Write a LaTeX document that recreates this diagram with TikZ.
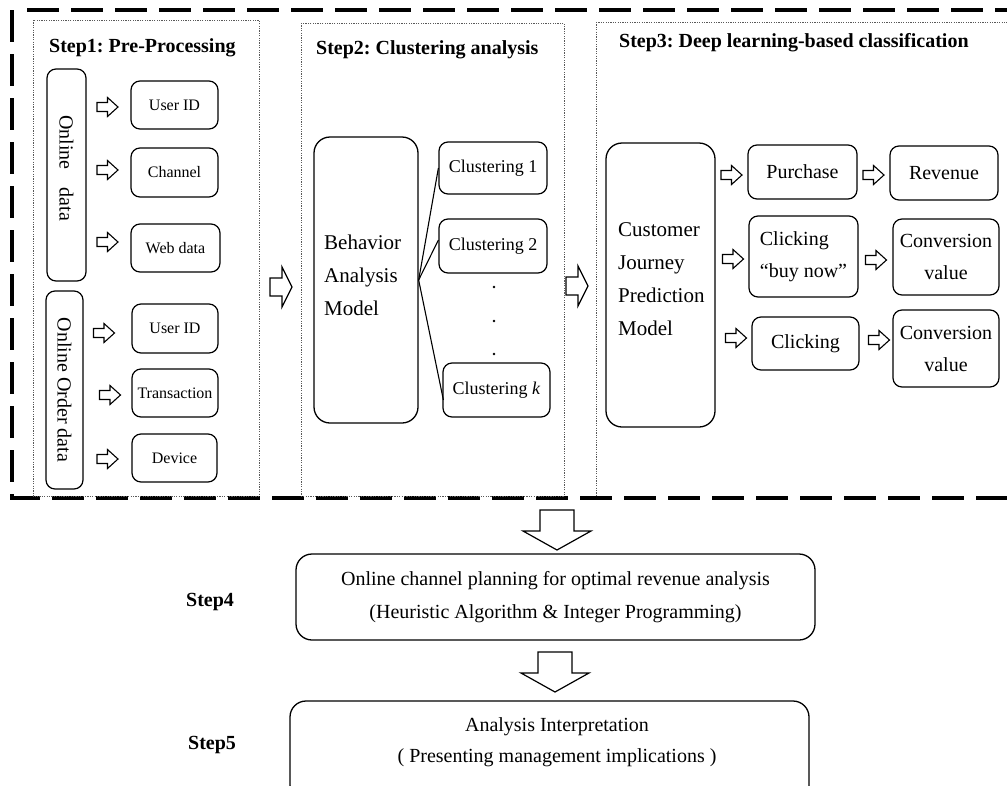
\documentclass[tikz,border=0pt]{standalone}
\usepackage{fontspec}
\setmainfont{Liberation Serif}
\usetikzlibrary{calc}
\begin{document}
\begin{tikzpicture}[x=1pt,y=-1pt,
  box/.style={draw, line width=1.2pt, rounded corners=9pt, inner sep=0pt, align=center},
  bigbox/.style={draw, line width=1.3pt, rounded corners=16pt, inner sep=0pt},
  fsmall/.style={font=\fontsize{16}{19}\selectfont},
  fclust/.style={font=\fontsize{18}{21}\selectfont},
  fmid/.style={font=\fontsize{20}{32}\selectfont},
  fbig/.style={font=\fontsize{21}{33}\selectfont},
  frot/.style={font=\fontsize{20}{24}\selectfont},
  title/.style={font=\fontsize{20}{24}\selectfont\bfseries, anchor=west, inner sep=0pt},
  panel/.style={draw=black!65, line width=1pt, dash pattern=on 1.2pt off 1.2pt},
  outer/.style={line width=4.5pt, dash pattern=on 32pt off 12pt},
  sarrow/.pic={\draw[line width=1.1pt, fill=white, line join=miter] (-10.5,-4.5) -- (0,-4.5) -- (0,-9.5) -- (10.5,0) -- (0,9.5) -- (0,4.5) -- (-10.5,4.5) -- cycle;},
  barrow/.pic={\draw[line width=1.2pt, fill=white, line join=miter] (-12,-9) -- (0,-9) -- (0,-20) -- (10,0) -- (0,20) -- (0,9) -- (-12,9) -- cycle;},
  darrow/.pic={\draw[line width=1.2pt, fill=white, line join=miter] (-17,0) -- (17,0) -- (17,21) -- (34,21) -- (0,40) -- (-34,21) -- (-17,21) -- cycle;}
]
\useasboundingbox (0,0) rectangle (1007,785);

% outer dashed frame
\draw[outer] (12,10) -- (12,498) -- (1012,498);
\draw[outer] (27,10) -- (1012,10);

% dotted panels
\draw[panel] (33,20) rectangle (259,496);
\draw[panel] (301,23) rectangle (564,496);
\draw[panel] (596,22) -- (1012,22);
\draw[panel] (596,22) -- (596,496);

% titles
\node[title] (t1) at (49,48) {Step1:\ Pre-Processing};
\node[title] (t2) at (316,50) {Step2:\ Clustering analysis};
\node[title] (t3) at (619,43) {Step3:\ Deep learning-based classification};

% Step 1
\node[box, frot, rotate=-90, minimum width=212, minimum height=39] (od) at (66.5,175) {Online\hspace{18pt}data\hspace{14pt}};
\node[box, frot, rotate=-90, minimum width=198, minimum height=37] (ood) at (64.5,390) {Online Order data};
\node[box, fsmall, minimum width=87, minimum height=48] (u1) at (174.5,105) {User ID};
\node[box, fsmall, minimum width=87, minimum height=49] (ch) at (174.5,172.5) {Channel};
\node[box, fsmall, minimum width=89, minimum height=48] (wd) at (175.5,248) {Web data};
\node[box, fsmall, minimum width=86, minimum height=49] (u2) at (175,328.5) {User ID};
\node[box, fsmall, minimum width=86, minimum height=48] (tr) at (175,393) {Transaction};
\node[box, fsmall, minimum width=85, minimum height=48] (dv) at (174.5,458) {Device};
\pic at (107.5,107) {sarrow};
\pic at (107.5,170) {sarrow};
\pic at (107.5,242) {sarrow};
\pic at (104,333) {sarrow};
\pic at (110,395) {sarrow};
\pic at (107.5,459) {sarrow};

\pic at (282,287) {barrow};

% Step 2
\node[bigbox, minimum width=104, minimum height=286] (bam) at (366,280) {};
\node[fbig, align=left, inner sep=0pt, anchor=west] (bamt) at (324,275) {Behavior\\Analysis\\Model};
\node[box, fclust, minimum width=108, minimum height=52] (c1) at (493,168) {Clustering 1};
\node[box, fclust, minimum width=108, minimum height=54] (c2) at (493,246) {Clustering 2};
\node[box, fclust, minimum width=107, minimum height=54] (ck) at (496.5,390) {Clustering \textit{k}};
\draw[line width=1.1pt] (bam.east) -- (c1.west);
\draw[line width=1.1pt] (bam.east) -- ($(c2.west)+(0,-6)$);
\draw[line width=1.1pt] (bam.east) -- ($(ck.west)+(1,10)$);
\fill (494,287) circle (1.3pt);
\fill (494,321) circle (1.3pt);
\fill (494,354) circle (1.3pt);

\pic at (578,286) {barrow};

% Step 3
\node[bigbox, minimum width=109, minimum height=284] (cj) at (660.5,285) {};
\node[fbig, align=left, inner sep=0pt, anchor=west] (cjt) at (618,279.5) {Customer\\Journey\\Prediction\\Model};
\node[box, fmid, minimum width=109, minimum height=54] (pu) at (802.5,172) {Purchase};
\node[box, fmid, minimum width=108, minimum height=54] (rv) at (944,173) {Revenue};
\node[box, fmid, align=left, minimum width=109, minimum height=81] (cb) at (803.5,256.5) {Clicking\\“buy now”};
\node[box, fmid, minimum width=106, minimum height=76] (cv1) at (946,257) {Conversion\\value};
\node[box, fmid, minimum width=107, minimum height=53] (cl) at (805.5,343.5) {Clicking};
\node[box, fmid, minimum width=106, minimum height=77] (cv2) at (946,348.5) {Conversion\\value};
\pic at (731.5,175) {sarrow};
\pic at (733,259) {sarrow};
\pic at (736,338) {sarrow};
\pic at (873.5,175) {sarrow};
\pic at (876,260) {sarrow};
\pic at (879,340) {sarrow};

% Step 4 & 5
\pic at (557,510) {darrow};
\node[bigbox, align=center, font=\fontsize{20}{33}\selectfont, minimum width=519, minimum height=86] (s4) at (555.5,597) {Online channel planning for optimal revenue analysis\\(Heuristic Algorithm \& Integer Programming)};
\node[title] (l4) at (186,602) {Step4};
\pic at (555,652) {darrow};
\node[bigbox, minimum width=519, minimum height=100] (s5) at (549.5,751) {};
\node[align=center, inner sep=0pt, font=\fontsize{20}{31}\selectfont] (s5t) at (557,742) {Analysis Interpretation\\( Presenting management implications )};
\node[title] (l5) at (188,745) {Step5};
\end{tikzpicture}
\end{document}
